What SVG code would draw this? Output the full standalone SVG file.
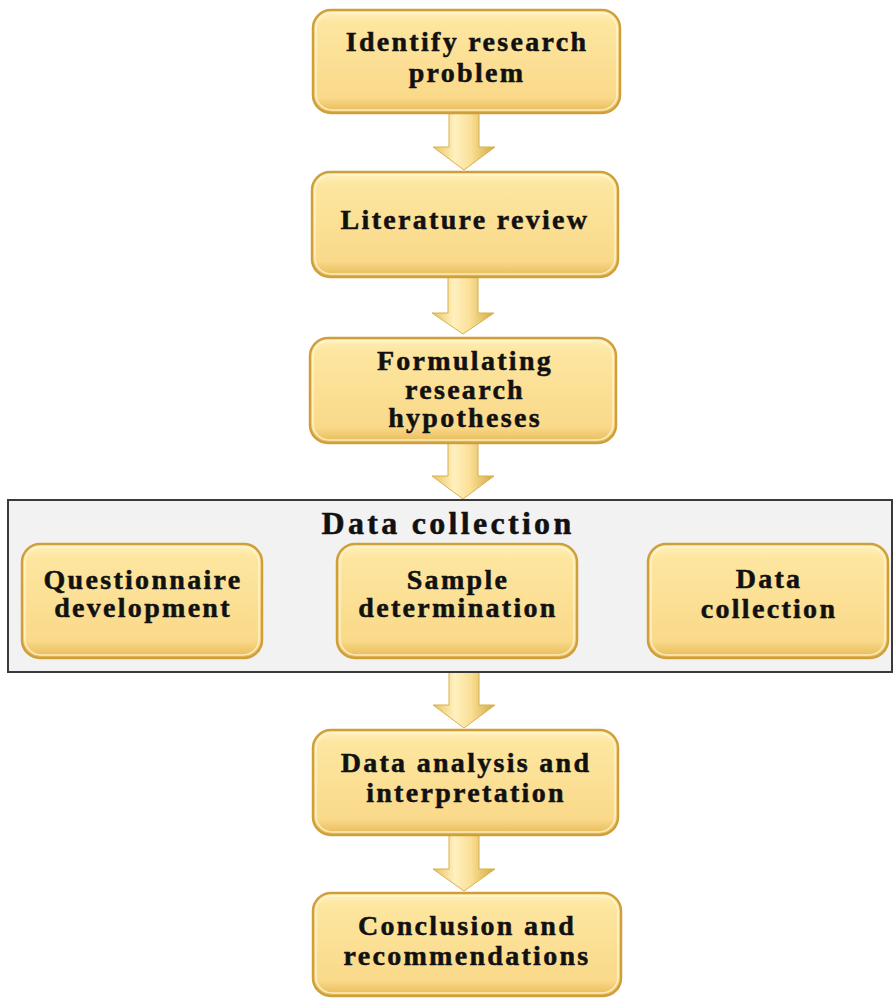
<svg xmlns="http://www.w3.org/2000/svg" width="893" height="998" viewBox="0 0 893 998">
<defs>
<linearGradient id="boxg" x1="0" y1="0" x2="0" y2="1">
<stop offset="0" stop-color="#fff1bd"/>
<stop offset="0.12" stop-color="#fde6a0"/>
<stop offset="0.85" stop-color="#fad98a"/>
<stop offset="1" stop-color="#e6b954"/>
</linearGradient>
<linearGradient id="arrg" x1="0" y1="0" x2="1" y2="0">
<stop offset="0" stop-color="#e8c35e"/>
<stop offset="0.35" stop-color="#fff0bf"/>
<stop offset="0.6" stop-color="#fbe199"/>
<stop offset="1" stop-color="#d4a93f"/>
</linearGradient>
</defs>
<style>
.box{fill:url(#boxg);stroke:#cf9f3c;stroke-width:2.5}
.hl{fill:none;stroke:#fff6d6;stroke-width:1.5;opacity:0.8}
.arr{fill:url(#arrg);stroke:#d8b04e;stroke-width:1}
.t{font-family:"Liberation Serif","Times New Roman",serif;font-weight:bold;font-size:28px;letter-spacing:2.3px;fill:#111;stroke:#111;stroke-width:0.5;text-anchor:middle}
.title{font-family:"Liberation Serif","Times New Roman",serif;font-weight:bold;font-size:32px;letter-spacing:3.3px;fill:#111;stroke:#111;stroke-width:0.5;text-anchor:middle}
.cont{fill:#f2f2f2;stroke:#3a3a3a;stroke-width:2}
</style>
<rect width="893" height="998" fill="#ffffff"/>

<g id="connectors">
<path class="arr" d="M449,113 L479,113 L479,147 L495,147 L464,170 L433,147 L449,147 Z"/>
<path class="arr" d="M448,277 L478,277 L478,313 L494,313 L463,334 L432,313 L448,313 Z"/>
<path class="arr" d="M448,443 L478,443 L478,476 L494,476 L463,499 L432,476 L448,476 Z"/>
<path class="arr" d="M449,672 L479,672 L479,705 L495,705 L464,728 L433,705 L449,705 Z"/>
<path class="arr" d="M449,835 L479,835 L479,869 L495,869 L464,891 L433,869 L449,869 Z"/>
</g>

<g id="n1">
<rect class="box" x="313" y="10" width="307" height="103" rx="18"/>
<rect class="hl" x="316" y="13" width="301" height="97" rx="16"/>
<text class="t" x="467" y="51">Identify research</text>
<text class="t" x="467" y="82">problem</text>
</g>

<g id="n2">
<rect class="box" x="312" y="172" width="306" height="105" rx="18"/>
<rect class="hl" x="315" y="175" width="300" height="99" rx="16"/>
<text class="t" x="465" y="229">Literature review</text>
</g>

<g id="n3">
<rect class="box" x="310" y="338" width="306" height="105" rx="18"/>
<rect class="hl" x="313" y="341" width="300" height="99" rx="16"/>
<text class="t" x="465" y="370">Formulating</text>
<text class="t" x="465" y="399">research</text>
<text class="t" x="465" y="427">hypotheses</text>
</g>

<g id="datacollection-group">
<rect class="cont" x="8" y="500" width="884" height="172"/>
<text class="title" x="448" y="534">Data collection</text>
</g>

<g id="n4a">
<rect class="box" x="22" y="544" width="240" height="114" rx="18"/>
<rect class="hl" x="25" y="547" width="234" height="108" rx="16"/>
<text class="t" x="143" y="589">Questionnaire</text>
<text class="t" x="143" y="617">development</text>
</g>

<g id="n4b">
<rect class="box" x="337" y="544" width="240" height="114" rx="18"/>
<rect class="hl" x="340" y="547" width="234" height="108" rx="16"/>
<text class="t" x="458" y="589">Sample</text>
<text class="t" x="458" y="617">determination</text>
</g>

<g id="n4c">
<rect class="box" x="648" y="544" width="240" height="114" rx="18"/>
<rect class="hl" x="651" y="547" width="234" height="108" rx="16"/>
<text class="t" x="769" y="588">Data</text>
<text class="t" x="769" y="618">collection</text>
</g>

<g id="n5">
<rect class="box" x="313" y="730" width="305" height="105" rx="18"/>
<rect class="hl" x="316" y="733" width="299" height="99" rx="16"/>
<text class="t" x="466" y="772">Data analysis and</text>
<text class="t" x="466" y="802">interpretation</text>
</g>

<g id="n6">
<rect class="box" x="313" y="893" width="308" height="103" rx="18"/>
<rect class="hl" x="316" y="896" width="302" height="97" rx="16"/>
<text class="t" x="467" y="935">Conclusion and</text>
<text class="t" x="467" y="965">recommendations</text>
</g>
</svg>
